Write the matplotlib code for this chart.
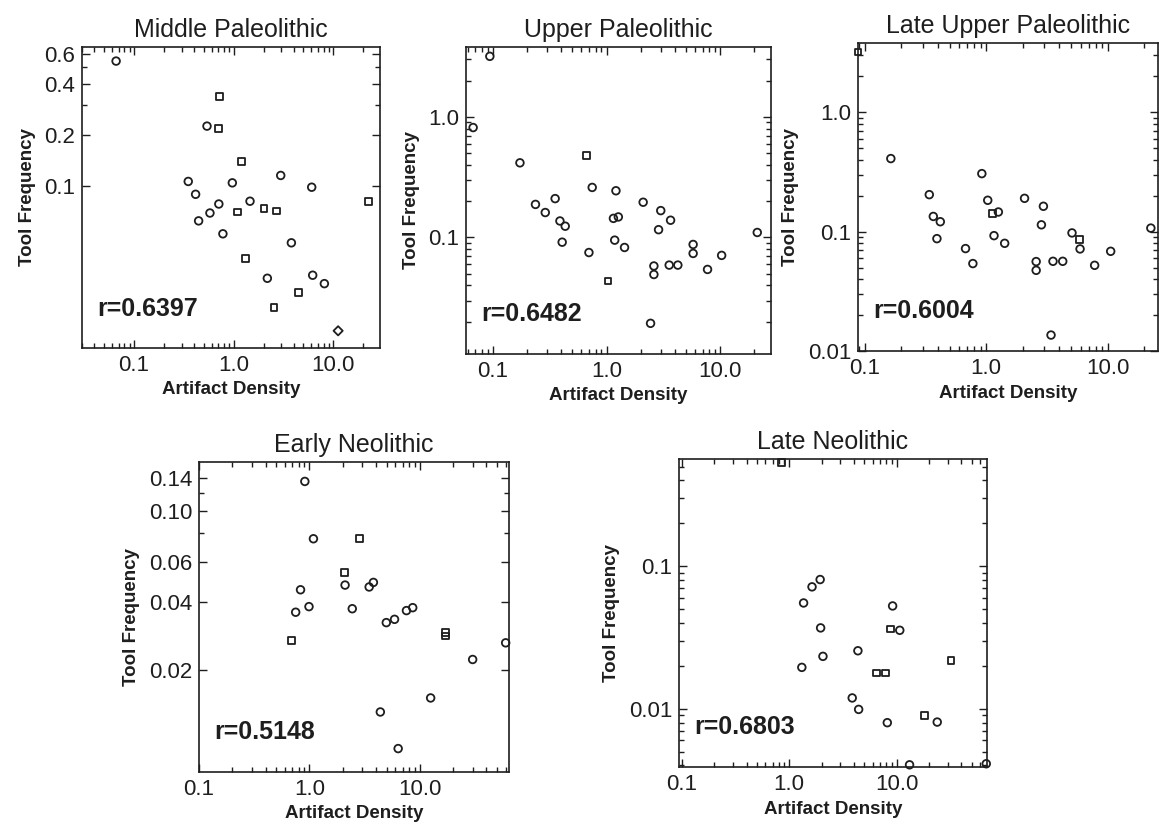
import matplotlib

matplotlib.use("Agg")
import matplotlib.pyplot as plt
import numpy as np
from matplotlib.ticker import FixedLocator, LogLocator, NullFormatter

plt.rcParams["font.family"] = ["Liberation Sans", "DejaVu Sans"]

# Middle Paleolithic
mp_x = [0.066, 0.72, 0.54, 0.71, 1.19, 2.97, 0.35, 0.97, 6.08, 0.415, 22.7, 1.46, 0.71, 2.02,
        2.69, 1.10, 0.578, 0.445, 0.78, 3.8, 1.32, 6.22, 2.18, 8.15, 4.47, 2.54, 11.2]
mp_y = [0.545, 0.335, 0.225, 0.218, 0.139, 0.115, 0.106, 0.104, 0.098, 0.089, 0.081, 0.081,
        0.078, 0.073, 0.071, 0.070, 0.069, 0.062, 0.052, 0.046, 0.037, 0.0296, 0.0284, 0.0264,
        0.0234, 0.019, 0.0139]
mp_shape = "ososs" + "ooooo" + "s" + "oo" + "sss" + "oooo" + "s" + "ooo" + "ss" + "D"

# Upper Paleolithic
up_x = [0.094, 0.067, 0.173, 0.667, 0.748, 1.21, 0.353, 0.237, 2.10, 0.289, 3.0, 3.66, 0.389,
        1.15, 1.27, 0.433, 2.87, 21.2, 0.407, 1.18, 1.44, 5.78, 0.70, 5.78, 10.3, 2.61, 2.61,
        3.56, 4.24, 7.74, 1.03, 2.44]
up_y = [3.18, 0.816, 0.416, 0.481, 0.26, 0.244, 0.21, 0.188, 0.196, 0.161, 0.167, 0.139, 0.137,
        0.144, 0.148, 0.124, 0.116, 0.11, 0.0914, 0.095, 0.0826, 0.0875, 0.075, 0.0737, 0.071,
        0.058, 0.0493, 0.059, 0.059, 0.0543, 0.0435, 0.0194]
up_shape = "ooos" + "o" * 26 + "so"

# Late Upper Paleolithic
lup_x = [0.088, 0.164, 0.921, 0.34, 2.07, 1.03, 2.96, 1.26, 1.13, 0.367, 0.419, 2.85, 22.7, 5.09,
         1.16, 0.393, 5.89, 1.42, 0.676, 5.93, 10.6, 2.58, 2.58, 3.55, 4.27, 0.777, 7.82, 3.42]
lup_y = [3.2, 0.409, 0.306, 0.204, 0.19, 0.183, 0.163, 0.146, 0.141, 0.134, 0.121, 0.114, 0.107,
         0.0975, 0.0925, 0.0873, 0.0857, 0.0798, 0.0721, 0.0716, 0.0684, 0.0561, 0.0474, 0.0564,
         0.0564, 0.054, 0.0522, 0.0136]
lup_shape = "s" + "o" * 7 + "s" + "o" * 7 + "s" + "o" * 11

# Early Neolithic
en_x = [0.908, 1.086, 2.82, 2.06, 2.10, 3.47, 3.79, 0.83, 0.99, 0.75, 2.44, 7.55, 8.6, 4.96,
        5.89, 17.1, 17.1, 0.685, 59.7, 30.0, 12.5, 4.38, 6.35]
en_y = [0.1355, 0.0758, 0.0763, 0.0537, 0.0474, 0.0465, 0.0487, 0.0452, 0.0381, 0.036, 0.0373,
        0.0366, 0.0377, 0.0324, 0.0335, 0.0294, 0.0283, 0.027, 0.0264, 0.0223, 0.0151, 0.0131,
        0.00904]
en_shape = "oo" + "ss" + "o" * 11 + "sss" + "o" * 5

# Late Neolithic
ln_x = [0.84, 1.94, 1.63, 1.36, 9.18, 1.96, 8.79, 10.7, 4.36, 2.06, 32.1, 1.31, 6.46, 7.9, 3.86,
        4.43, 18.2, 8.19, 23.9, 13.2, 68.4]
ln_y = [0.535, 0.0806, 0.0716, 0.0552, 0.0526, 0.0369, 0.0363, 0.0355, 0.0255, 0.0233, 0.0219,
        0.0195, 0.0178, 0.0178, 0.0119, 0.00989, 0.00898, 0.00798, 0.00806, 0.00404, 0.00411]
ln_shape = "s" + "o" * 5 + "s" + "ooo" + "s" + "o" + "ss" + "oo" + "s" + "oooo"

x_ticks = [0.1, 1.0, 10.0]
x_tick_labels = ["0.1", "1.0", "10.0"]

INK = "#1e1e1e"
W, H = 1159, 827


def add_box(fig, left, top, right, bottom):
    """Axes from pixel edges of the reference"""
    return fig.add_axes([left / W, 1 - bottom / H, (right - left) / W, (bottom - top) / H])


def draw_panel(ax, x, y, shapes, title, r_text, xlim, ylim, yticks, ylabels, yminor=None):
    x = np.array(x)
    y = np.array(y)
    for shape in set(shapes):
        idx = [i for i, s in enumerate(shapes) if s == shape]
        size = {"o": 30, "s": 24, "D": 22}[shape]
        ax.scatter(x[idx], y[idx], marker=shape, s=size, facecolors="none",
                   edgecolors=INK, linewidths=1.3, clip_on=False, zorder=3)

    ax.set_xscale("log")
    ax.set_yscale("log")
    ax.set_xlim(xlim)
    ax.set_ylim(ylim)

    ax.xaxis.set_major_locator(FixedLocator(x_ticks))
    ax.set_xticklabels(x_tick_labels)
    ax.xaxis.set_minor_locator(LogLocator(base=10, subs=np.arange(2, 10)))
    ax.xaxis.set_minor_formatter(NullFormatter())

    ax.yaxis.set_major_locator(FixedLocator(yticks))
    ax.set_yticklabels(ylabels)
    if yminor is None:
        ax.yaxis.set_minor_locator(LogLocator(base=10, subs=np.arange(2, 10)))
    else:
        ax.yaxis.set_minor_locator(FixedLocator(yminor))
    ax.yaxis.set_minor_formatter(NullFormatter())

    ax.tick_params(which="both", direction="in", top=True, right=True, colors=INK,
                   labelsize=16, width=1.0)
    ax.tick_params(which="major", length=6, pad=5)
    ax.tick_params(which="minor", length=3.5)
    for sp in ax.spines.values():
        sp.set_linewidth(1.2)
        sp.set_color(INK)

    ax.set_title(title, fontsize=18, color=INK, pad=7)
    ax.set_xlabel("Artifact Density", fontsize=13.5, fontweight="bold", color=INK, labelpad=4)
    ax.set_ylabel("Tool Frequency", fontsize=13.5, fontweight="bold", color=INK, labelpad=6)
    ax.text(0.05, 0.13, r_text, transform=ax.transAxes, fontsize=18, fontweight="bold",
            color=INK, va="center", ha="left")


fig = plt.figure(figsize=(W / 100, H / 100), dpi=100)

ax1 = add_box(fig, 82, 47, 380, 348)
draw_panel(ax1, mp_x, mp_y, mp_shape, "Middle Paleolithic", "r=0.6397",
           (0.030, 29.5), (0.011, 0.66),
           [0.1, 0.2, 0.4, 0.6], ["0.1", "0.2", "0.4", "0.6"], yminor=[0.3, 0.5])

ax2 = add_box(fig, 466, 47, 771, 354)
draw_panel(ax2, up_x, up_y, up_shape, "Upper Paleolithic", "r=0.6482",
           (0.058, 28), (0.0108, 3.8),
           [0.01, 0.1, 1.0], ["0.01", "0.1", "1.0"])

ax3 = add_box(fig, 858, 43, 1158, 351)
draw_panel(ax3, lup_x, lup_y, lup_shape, "Late Upper Paleolithic", "r=0.6004",
           (0.088, 26), (0.01, 3.8),
           [0.01, 0.1, 1.0], ["0.01", "0.1", "1.0"])

ax4 = add_box(fig, 199, 462, 509, 772)
draw_panel(ax4, en_x, en_y, en_shape, "Early Neolithic", "r=0.5148",
           (0.1, 64), (0.00713, 0.165),
           [0.02, 0.04, 0.06, 0.10, 0.14], ["0.02", "0.04", "0.06", "0.10", "0.14"],
           yminor=[0.08, 0.12])

ax5 = add_box(fig, 679, 459, 987, 767)
draw_panel(ax5, ln_x, ln_y, ln_shape, "Late Neolithic", "r=0.6803",
           (0.094, 69.5), (0.0039, 0.565),
           [0.01, 0.1], ["0.01", "0.1"])

fig.savefig("out.png", dpi=100, facecolor="white")
